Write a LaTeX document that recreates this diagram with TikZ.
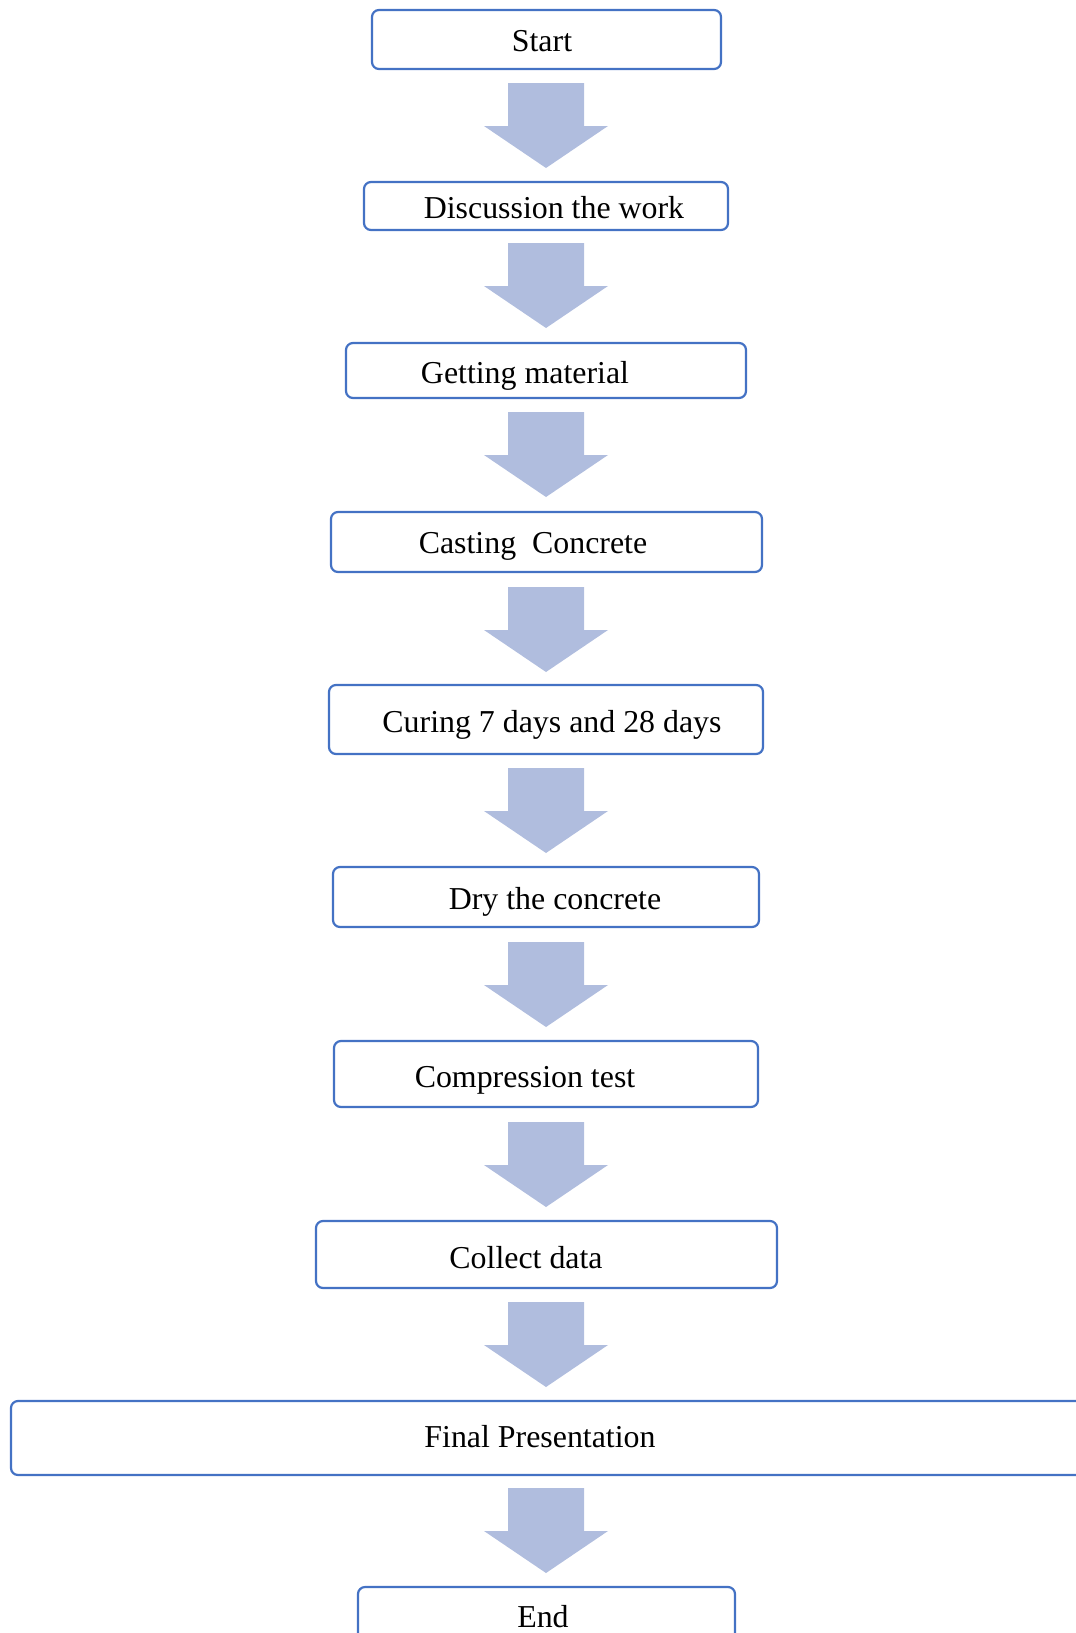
\documentclass[tikz,border=0pt]{standalone}
\usepackage{fontspec}
\setmainfont{Liberation Serif}
\definecolor{boxblue}{HTML}{4472C4}
\definecolor{arrfill}{HTML}{B0BDDE}
\tikzset{
  flowbox/.style={draw=boxblue, line width=2.2bp, rounded corners=7bp, fill=white},
  lbl/.style={anchor=base, inner sep=0pt, font=\fontsize{32}{38}\selectfont},
  blockarrow/.style={fill=arrfill}
}
\newcommand{\blockarr}[1]{%
  \fill[blockarrow] (508,#1) -- (584,#1) -- (584,{#1+43}) -- (608,{#1+43}) -- (546,{#1+85}) -- (484,{#1+43}) -- (508,{#1+43}) -- cycle;}
\begin{document}
\begin{tikzpicture}[x=1bp,y=-1bp]
\useasboundingbox (0,0) rectangle (1075,1633);
\draw[flowbox] (372,10) rectangle (721,69);
\node[lbl] (tstart) at (542,52) {Start};

\blockarr{83}

\draw[flowbox] (364,182) rectangle (728,230);
\node[lbl] (tdisc) at (554,218) {Discussion the work};

\blockarr{243}

\draw[flowbox] (346,343) rectangle (746,398);
\node[lbl] (tget) at (525,383) {Getting material};

\blockarr{412}

\draw[flowbox] (331,512) rectangle (762,572);
\node[lbl] (tcast) at (533,553) {Casting\ \ Concrete};

\blockarr{587}

\draw[flowbox] (329,685) rectangle (763,754);
\node[lbl] (tcure) at (552,732) {Curing 7 days and 28 days};

\blockarr{768}

\draw[flowbox] (333,867) rectangle (759,927);
\node[lbl] (tdry) at (555,909) {Dry the concrete};

\blockarr{942}

\draw[flowbox] (334,1041) rectangle (758,1107);
\node[lbl] (tcomp) at (525,1087) {Compression test};

\blockarr{1122}

\draw[flowbox] (316,1221) rectangle (777,1288);
\node[lbl] (tcoll) at (526,1268) {Collect data};

\blockarr{1302}

\draw[flowbox] (11,1401) rectangle (1095,1475);
\node[lbl] (tfinal) at (540,1447) {Final Presentation};

\blockarr{1488}

\draw[flowbox] (358,1587) rectangle (735,1660);
\node[lbl] (tend) at (543,1627) {End};
\end{tikzpicture}
\end{document}
